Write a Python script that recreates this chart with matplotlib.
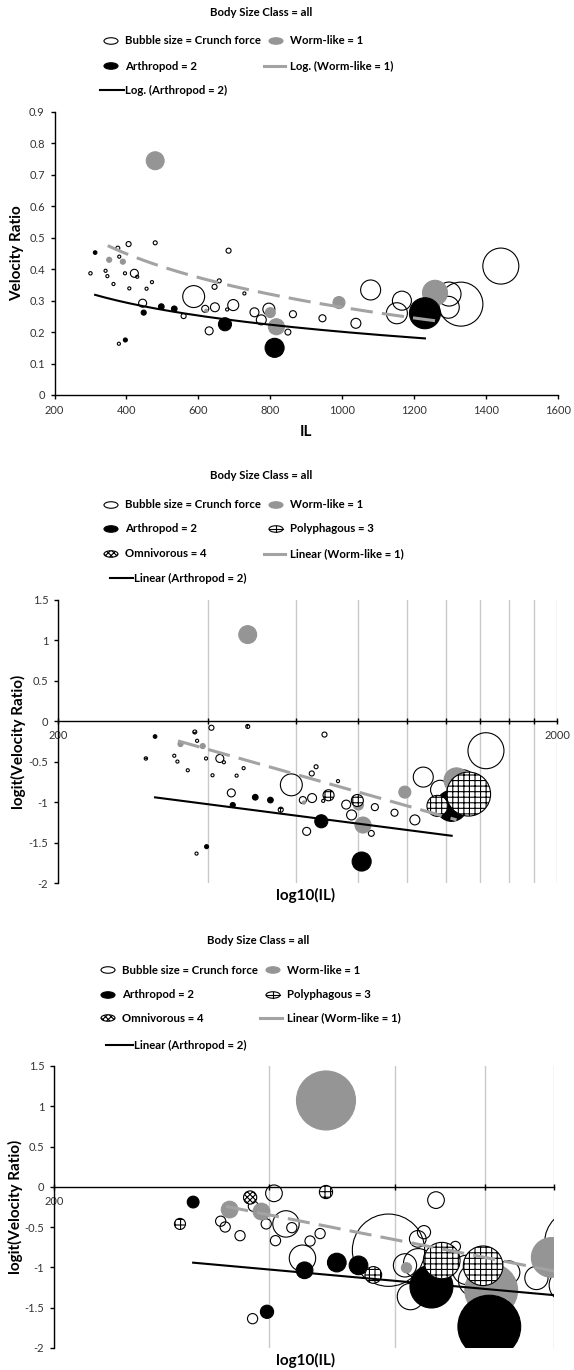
import numpy as np
import matplotlib
matplotlib.use('Agg')
import matplotlib.pyplot as plt
from matplotlib.patches import Ellipse
from matplotlib.lines import Line2D
from matplotlib.ticker import NullFormatter

plt.rcParams['font.family'] = ['Lato', 'DejaVu Sans']
plt.rcParams['hatch.linewidth'] = 0.8

W, H = 574, 1370

# ---- data (IL, velocity ratio, crunch force) ----
# "Bubble size = Crunch force" series: species with no diet class
other_il = [406, 684, 380, 342, 347, 396, 422, 430, 364, 408, 456, 471, 587, 445, 619, 646,
            658, 645, 728, 630, 756, 775, 849, 863, 379, 945, 1038, 1079, 1166, 1297, 1295, 1441]
other_vr = [0.480, 0.459, 0.440, 0.395, 0.378, 0.387, 0.387, 0.376, 0.353, 0.339, 0.338, 0.359,
            0.313, 0.292, 0.274, 0.279, 0.363, 0.344, 0.323, 0.204, 0.263, 0.239, 0.200, 0.257,
            0.163, 0.244, 0.228, 0.334, 0.300, 0.321, 0.279, 0.410]
other_force = [1.6, 1.6, 0.6, 0.6, 0.6, 0.6, 4.0, 0.6, 0.6, 0.6, 0.6, 0.6,
               30, 4.0, 3.1, 5.0, 1.0, 1.6, 0.6, 4.0, 5.0, 6.2, 2.2, 3.1,
               0.6, 3.1, 6.2, 25, 22.6, 36, 30, 81]

# Worm-like = 1
worm_il = [352, 390, 480, 622, 800, 817, 991, 1258]
worm_vr = [0.430, 0.424, 0.745, 0.268, 0.262, 0.217, 0.294, 0.325]
worm_force = [1.6, 1.6, 20, 0.6, 6.2, 16, 9, 39]

# Arthropod = 2
arth_il = [313, 397, 448, 497, 533, 674, 812, 1230]
arth_vr = [0.453, 0.175, 0.262, 0.281, 0.274, 0.225, 0.150, 0.260]
arth_force = [0.8, 1.0, 1.6, 2.0, 2.0, 10.6, 22.6, 60]

# Polyphagous = 3
poly_il = [300, 480, 559, 680, 697, 796, 1152, 1330]
poly_vr = [0.387, 0.484, 0.251, 0.272, 0.286, 0.273, 0.260, 0.289]
poly_force = [0.7, 1.0, 1.6, 0.6, 7.6, 9, 27.6, 121]

# Omnivorous = 4
omni_il = [376]
omni_vr = [0.467]
omni_force = [1.0]

# Excel trendline equations as shown on the chart
worm_log = (1.563, -0.1859)   # VR = a + b ln(IL)
arth_log = (0.900, -0.1012)
worm_lin = (4.205, -1.75)     # logit(VR) = a + b log10(IL)
arth_lin = (1.053, -0.799)
worm_span = (348, 1258)
arth_span = (313, 1230)

GREY = '#959595'
TREND_GREY = '#a3a3a3'
TEXT = '#333333'


def box(l, t, r, b):
    return [l / W, 1 - b / H, (r - l) / W, (b - t) / H]


def logit(v):
    v = np.asarray(v, float)
    return np.log(v / (1 - v))


def bubbles(ax, x, y, force, scale, **kw):
    r = scale * np.sqrt(np.asarray(force, float))
    s = (2 * r * 0.72) ** 2
    ax.scatter(x, y, s=s, linewidths=0.8, **kw)


fig = plt.figure(figsize=(W / 100, H / 100), dpi=100)


# ---------------- legends (drawn in pixel coordinates) ----------------
def ptxt(x, y, s, ha='left'):
    fig.text(x / W, 1 - y / H, s, ha=ha, va='center', fontsize=8.2, fontweight='bold')


def ell(x, y, fc, ec='black', hatch=None):
    e = Ellipse((x / 100, (H - y) / 100), 0.14, 0.065, transform=fig.dpi_scale_trans,
                fc=fc, ec=ec, lw=0.8, hatch=hatch)
    fig.add_artist(e)


def seg(x0, x1, y, color, lw):
    fig.add_artist(Line2D([x0 / W, x1 / W], [1 - y / H, 1 - y / H],
                          transform=fig.transFigure, color=color, lw=lw))


def poly_icon(x, y):
    ell(x, y, 'white')
    seg(x - 7, x + 7, y, 'black', 0.8)
    fig.add_artist(Line2D([x / W, x / W], [1 - (y - 3.2) / H, 1 - (y + 3.2) / H],
                          transform=fig.transFigure, color='black', lw=0.8))


# panel 1 legend
ptxt(261, 12, 'Body Size Class = all', ha='center')
ell(111, 41, 'white'); ptxt(125, 41, 'Bubble size = Crunch force')
ell(276, 41, GREY, ec=GREY); ptxt(290, 41, 'Worm-like = 1')
ell(111, 66, 'black'); ptxt(125, 66, 'Arthropod = 2')
seg(264, 285, 66, TREND_GREY, 2.2); ptxt(290, 66, 'Log. (Worm-like = 1)')
seg(100, 124, 90, 'black', 1.5); ptxt(125, 90, 'Log. (Arthropod = 2)')

# panel 2 legend
ptxt(261, 476, 'Body Size Class = all', ha='center')
ell(111, 505, 'white'); ptxt(125, 505, 'Bubble size = Crunch force')
ell(276, 505, GREY, ec=GREY); ptxt(290, 505, 'Worm-like = 1')
ell(111, 529, 'black'); ptxt(125, 529, 'Arthropod = 2')
poly_icon(276, 529); ptxt(290, 529, 'Polyphagous = 3')
ell(111, 554, 'white', hatch='xxxxxx'); ptxt(125, 554, 'Omnivorous = 4')
seg(264, 285, 554, TREND_GREY, 2.2); ptxt(290, 554, 'Linear (Worm-like = 1)')
seg(110, 133, 578, 'black', 1.5); ptxt(134, 578, 'Linear (Arthropod = 2)')

# panel 3 legend
ptxt(258, 941, 'Body Size Class = all', ha='center')
ell(108, 970, 'white'); ptxt(122, 970, 'Bubble size = Crunch force')
ell(273, 970, GREY, ec=GREY); ptxt(287, 970, 'Worm-like = 1')
ell(108, 995, 'black'); ptxt(122, 995, 'Arthropod = 2')
poly_icon(273, 995); ptxt(287, 995, 'Polyphagous = 3')
ell(108, 1018, 'white', hatch='xxxxxx'); ptxt(122, 1018, 'Omnivorous = 4')
seg(260, 282, 1018, TREND_GREY, 2.2); ptxt(287, 1018, 'Linear (Worm-like = 1)')
seg(106, 133, 1045, 'black', 1.5); ptxt(134, 1045, 'Linear (Arthropod = 2)')


def style_axes(ax):
    for side in ['top', 'right']:
        ax.spines[side].set_visible(False)
    for side in ['left', 'bottom']:
        ax.spines[side].set_linewidth(1.0)
    ax.tick_params(axis='both', which='major', length=3, width=1.0, labelsize=8,
                   labelcolor=TEXT, pad=4)


# ---------------- panel 1: VR vs IL ----------------
ax1 = fig.add_axes(box(54.5, 112, 558, 395))
white_il = other_il + poly_il + omni_il
white_vr = other_vr + poly_vr + omni_vr
white_f = other_force + poly_force + omni_force
bubbles(ax1, white_il, white_vr, white_f, 2.0, facecolors='none', edgecolors='black', zorder=3)
bubbles(ax1, worm_il, worm_vr, worm_force, 2.0, facecolors=GREY, edgecolors=GREY, zorder=4)
bubbles(ax1, arth_il, arth_vr, arth_force, 2.0, facecolors='black', edgecolors='black', zorder=5)

xs = np.linspace(*worm_span, 200)
ax1.plot(xs, worm_log[0] + worm_log[1] * np.log(xs), color=TREND_GREY, lw=2.2,
         dashes=(7.3, 3.0), zorder=7)
xs = np.linspace(*arth_span, 200)
ax1.plot(xs, arth_log[0] + arth_log[1] * np.log(xs), color='black', lw=1.5, zorder=6)

ax1.set_xlim(200, 1600)
ax1.set_ylim(0, 0.9)
ax1.set_xticks(range(200, 1601, 200))
yt = np.round(np.arange(0, 0.91, 0.1), 1)
ax1.set_yticks(yt, ['0'] + [f'{v:g}' for v in yt[1:]])
style_axes(ax1)
fig.text(17 / W, 1 - 253 / H, 'Velocity Ratio', rotation=90, ha='center', va='center',
         fontsize=11, fontweight='bold')
fig.text(306 / W, 1 - 432 / H, 'IL', ha='center', va='center', fontsize=11, fontweight='bold')


# ---------------- panels 2 and 3: logit(VR) vs log10(IL) ----------------
def logit_panel(rect, xmax, majors, major_labels, minors, scale, ylab_x, xlab_y):
    ax = fig.add_axes(rect)
    ax.set_xscale('log')
    bubbles(ax, other_il, logit(other_vr), other_force, scale,
            facecolors='none', edgecolors='black', zorder=3)
    bubbles(ax, worm_il, logit(worm_vr), worm_force, scale,
            facecolors=GREY, edgecolors=GREY, zorder=4)
    bubbles(ax, arth_il, logit(arth_vr), arth_force, scale,
            facecolors='black', edgecolors='black', zorder=5)
    bubbles(ax, poly_il, logit(poly_vr), poly_force, scale,
            facecolors='white', edgecolors='black', hatch='+++', zorder=6)
    bubbles(ax, omni_il, logit(omni_vr), omni_force, scale,
            facecolors='white', edgecolors='black', hatch='xxxxxx', zorder=7)

    xs = np.geomspace(*worm_span, 200)
    ax.plot(xs, worm_lin[0] + worm_lin[1] * np.log10(xs), color=TREND_GREY, lw=2.2,
            dashes=(7.3, 3.0), zorder=9)
    xs = np.geomspace(*arth_span, 200)
    ax.plot(xs, arth_lin[0] + arth_lin[1] * np.log10(xs), color='black', lw=1.5, zorder=8)

    ax.set_xlim(200, xmax)
    ax.set_ylim(-2, 1.5)
    ax.set_xticks(majors, major_labels)
    ax.set_xticks(minors, minor=True)
    ax.xaxis.set_minor_formatter(NullFormatter())
    yt = [-2, -1.5, -1, -0.5, 0, 0.5, 1, 1.5]
    ax.set_yticks(yt, [f'{v:g}' for v in yt])
    ax.spines['bottom'].set_position(('data', 0))
    style_axes(ax)
    ax.tick_params(axis='x', which='both', direction='inout', length=5, width=1.0)
    ax.grid(axis='x', which='both', color='#c9c9c9', lw=1.0, zorder=0)
    ax.set_axisbelow(True)
    cy = rect[1] + rect[3] / 2
    fig.text(ylab_x / W, cy, 'logit(Velocity Ratio)', rotation=90, ha='center',
             va='center', fontsize=11, fontweight='bold')
    fig.text(306 / W, 1 - xlab_y / H, 'log10(IL)', ha='center', va='center',
             fontsize=11, fontweight='bold')
    return ax


logit_panel(box(58, 600, 557, 883), 2000, [200, 2000], ['200', '2000'],
            list(range(400, 2000, 200)), 2.0, 18, 895)
logit_panel(box(54, 1066, 554, 1348), 1000, [200, 1000], ['200', ''],
            [400, 600, 800], 6.6, 15, 1360)

fig.savefig('out.png', dpi=100)
